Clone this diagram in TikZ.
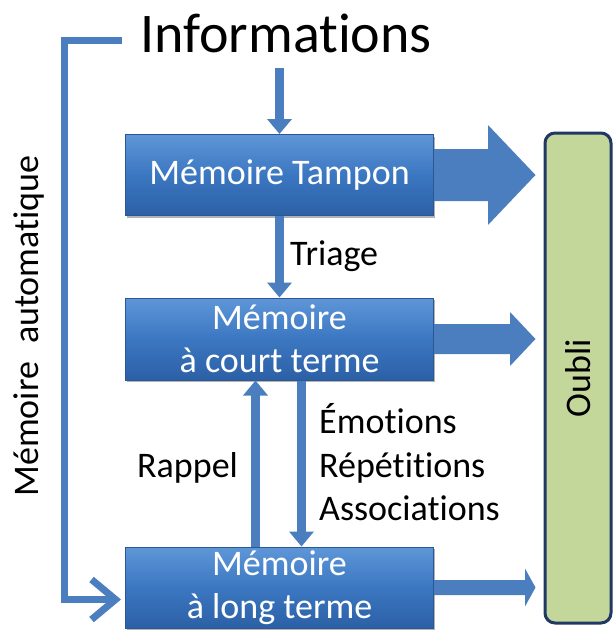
\documentclass[tikz,border=0pt]{standalone}
\usepackage{fontspec}
\setmainfont{Carlito}[Ligatures=NoCommon]
\usetikzlibrary{arrows.meta,calc,shadows}
\definecolor{arrowblue}{HTML}{4A7EBF}
\definecolor{boxtop}{HTML}{5E96D8}
\definecolor{boxmid}{HTML}{3B77C1}
\definecolor{boxbot}{HTML}{2C60A6}
\definecolor{boxedge}{HTML}{2A5894}
\definecolor{oublifill}{HTML}{C4D79B}
\definecolor{oubliedge}{HTML}{1F3864}
\tikzset{
  membox/.style={rectangle, draw=boxedge, line width=1pt,
    top color=boxtop, bottom color=boxbot, middle color=boxmid,
    minimum width=308, minimum height=81, inner sep=0pt,
    text=white, font=\fontsize{36}{43}\selectfont, align=center,
    drop shadow={shadow xshift=1.5pt, shadow yshift=-2pt, opacity=0.3, fill=black}},
  oublibox/.style={rectangle, rounded corners=10pt, draw=oubliedge, line width=3pt,
    fill=oublifill, minimum width=66, minimum height=490, inner sep=0pt},
  lbl/.style={inner sep=0pt, font=\fontsize{36}{43}\selectfont, text=black},
  thinarrow/.style={draw=arrowblue, line width=9pt,
    -{Triangle[width=24pt,length=15pt]}},
  bracketline/.style={draw=arrowblue, line width=7pt, line join=miter,
    -{Straight Barb[length=24pt,width=40pt]}},
  bigarrow/.style={fill=arrowblue}
}
\begin{document}
\begin{tikzpicture}[x=1pt,y=-1pt]
\useasboundingbox (0,0) rectangle (615,630);
% boxes
\node[membox] (box1) at (279.5,175) {Mémoire Tampon};
\node[membox, minimum height=82] (box2) at (279.5,339) {Mémoire\\à court terme};
\node[membox] (box3) at (279.5,587.5) {Mémoire\\à long terme};
\node[oublibox] (oubli) at (578,378) {};
\node[lbl, rotate=90] (oublitxt) at (oubli.center) {Oubli};
% texts
\node[lbl, anchor=base west, font=\fontsize{56}{60}\selectfont] (info) at (140,52) {Informations};
\node[lbl, anchor=base west] (triage) at (290,265) {Triage};
\node[lbl, anchor=base west] (rappel) at (137,477) {Rappel};
\node[lbl, anchor=base west] (emo) at (319,433) {Émotions};
\node[lbl, anchor=base west] (rep) at (319,477) {Répétitions};
\node[lbl, anchor=base west] (assoc) at (319,520) {Associations};
\node[lbl, anchor=base, rotate=90] (auto) at (38,326) {Mémoire\hspace{0.5em}automatique};
% thin arrows
\draw[thinarrow] ($(info.south -| box1.north)+(0,15)$) -- (box1.north);
\draw[thinarrow] (box1.south) -- (box2.north);
\draw[thinarrow] ($(box3.north)+(-24,0)$) -- ($(box2.south)+(-24,0)$);
\draw[thinarrow] ($(box2.south)+(22,0)$) -- ($(box3.north)+(22,0)$);
% bracket (automatic memory)
\draw[bracketline] ($(info.base west)+(-18,-12)$) -| ($(box3.west)+(-61,12)$) -- ($(box3.west)+(-4,12)$);
% big arrows to Oubli
\fill[bigarrow] ($(box1.east)+(0,-26)$) -- ($(box1.east)+(54,-26)$) -- ($(box1.east)+(54,-50)$)
  -- ($(oubli.west |- box1.east)+(-8,0)$)
  -- ($(box1.east)+(54,50)$) -- ($(box1.east)+(54,26)$) -- ($(box1.east)+(0,26)$) -- cycle;
\fill[bigarrow] ($(box2.east)+(0,-15)$) -- ($(box2.east)+(76,-15)$) -- ($(box2.east)+(76,-27)$)
  -- ($(oubli.west |- box2.east)+(-8,0)$)
  -- ($(box2.east)+(76,27)$) -- ($(box2.east)+(76,15)$) -- ($(box2.east)+(0,15)$) -- cycle;
\fill[bigarrow] ($(box3.east)+(0,-7.5)$) -- ($(box3.east)+(91,-7.5)$) -- ($(box3.east)+(91,-19)$)
  -- ($(oubli.west |- box3.east)+(-8,0)$)
  -- ($(box3.east)+(91,19)$) -- ($(box3.east)+(91,7.5)$) -- ($(box3.east)+(0,7.5)$) -- cycle;
\end{tikzpicture}
\end{document}
